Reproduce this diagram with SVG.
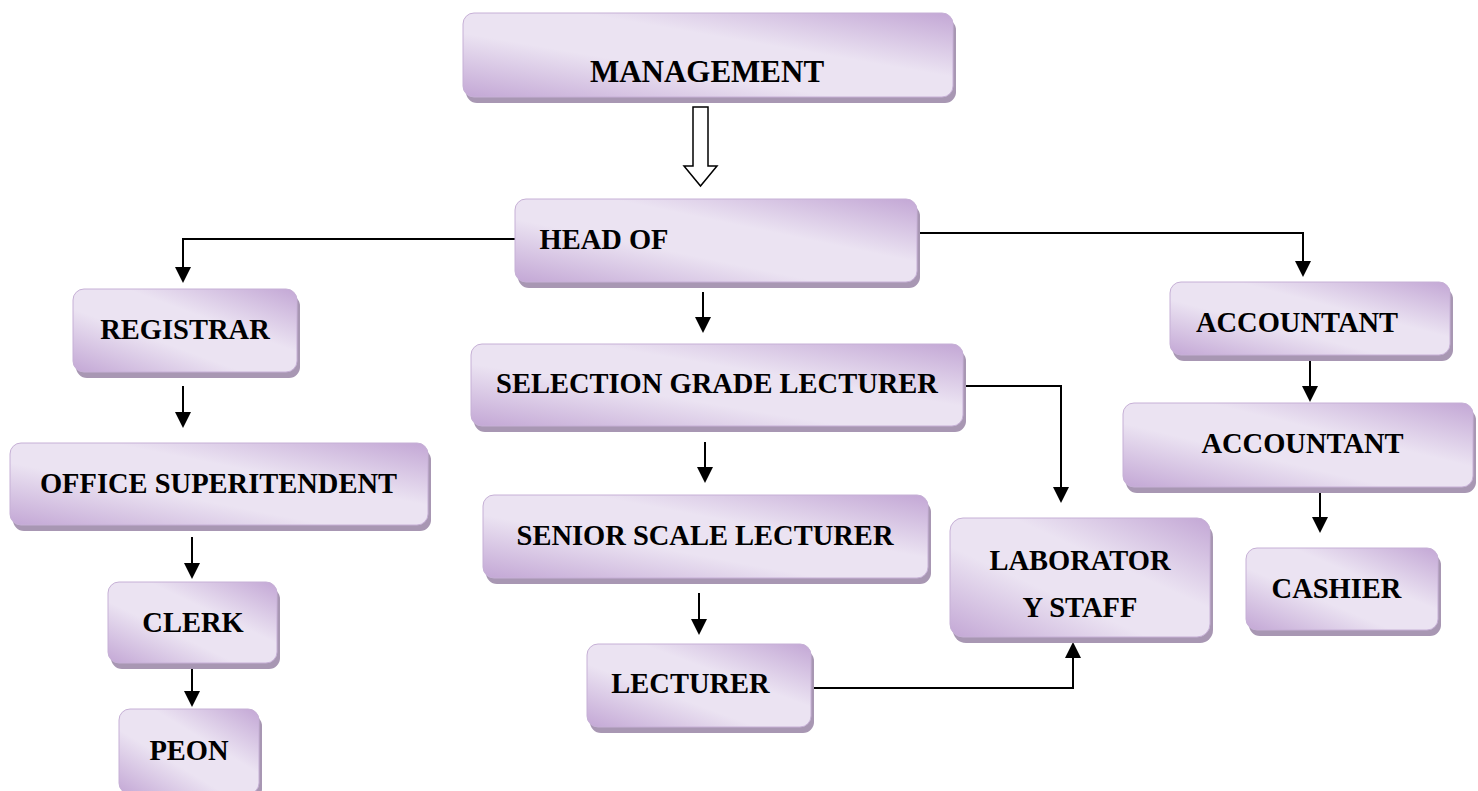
<svg xmlns="http://www.w3.org/2000/svg" width="1478" height="791" viewBox="0 0 1478 791">
<defs>
<linearGradient id="g" x1="0" y1="1" x2="1" y2="0">
<stop offset="0" stop-color="#c3a7d5"/>
<stop offset="0.38" stop-color="#ebe3f2"/>
<stop offset="0.62" stop-color="#ebe3f2"/>
<stop offset="1" stop-color="#c3a7d5"/>
</linearGradient>
<marker id="ah" markerUnits="userSpaceOnUse" markerWidth="16" markerHeight="16" refX="8" refY="8" orient="auto">
<path d="M0,0 L16,8 L0,16 z" fill="#000"/>
</marker>
<style>
.sh{fill:#a897b3}
.bx{fill:url(#g);stroke:#c6b0d6;stroke-width:1}
.t{font-family:"Liberation Serif","Times New Roman",serif;font-weight:bold;font-size:28.5px;fill:#000;text-anchor:middle}
.c{fill:none;stroke:#000;stroke-width:2;marker-end:url(#ah)}
</style>
</defs>
<rect width="1478" height="791" fill="#fff"/>

<g id="connectors">
<polygon points="693,107 708,107 708,166 717,166 700.5,186 684,166 693,166" fill="#fff" stroke="#000" stroke-width="1.5"/>
<path class="c" d="M515,239 H183 V275"/>
<path class="c" d="M917,233 H1303 V269"/>
<path class="c" d="M703,292 V325"/>
<path class="c" d="M183,386 V420"/>
<path class="c" d="M192,537 V571"/>
<path class="c" d="M192,665 V699"/>
<path class="c" d="M705,442 V475"/>
<path class="c" d="M699,593 V627"/>
<path class="c" d="M963,386 H1061 V495"/>
<path class="c" d="M807,688 H1073 V650"/>
<path class="c" d="M1310,361 V394"/>
<path class="c" d="M1320,492 V525"/>
</g>

<g id="management">
<rect class="sh" x="466" y="19" width="490" height="84" rx="11"/>
<rect class="bx" x="463" y="13" width="490" height="84" rx="11"/>
<text class="t" x="707" y="82" style="font-size:31px">MANAGEMENT</text>
</g>

<g id="head">
<rect class="sh" x="518" y="205" width="402" height="83" rx="11"/>
<rect class="bx" x="515" y="199" width="402" height="83" rx="11"/>
<text class="t" x="604" y="249">HEAD OF</text>
</g>

<g id="registrar">
<rect class="sh" x="76" y="295" width="224" height="83" rx="11"/>
<rect class="bx" x="73" y="289" width="224" height="83" rx="11"/>
<text class="t" x="185" y="339">REGISTRAR</text>
</g>

<g id="office">
<rect class="sh" x="13" y="449" width="418" height="82" rx="11"/>
<rect class="bx" x="10" y="443" width="418" height="82" rx="11"/>
<text class="t" x="218.5" y="493">OFFICE SUPERITENDENT</text>
</g>

<g id="clerk">
<rect class="sh" x="111" y="588" width="169" height="81" rx="11"/>
<rect class="bx" x="108" y="582" width="169" height="81" rx="11"/>
<text class="t" x="193" y="632">CLERK</text>
</g>

<g id="peon">
<rect class="sh" x="122" y="715" width="140" height="85" rx="11"/>
<rect class="bx" x="119" y="709" width="140" height="85" rx="11"/>
<text class="t" x="189" y="760">PEON</text>
</g>

<g id="sgl">
<rect class="sh" x="474" y="350" width="492" height="82" rx="11"/>
<rect class="bx" x="471" y="344" width="492" height="82" rx="11"/>
<text class="t" x="717" y="393">SELECTION GRADE LECTURER</text>
</g>

<g id="ssl">
<rect class="sh" x="486" y="501" width="445" height="83" rx="11"/>
<rect class="bx" x="483" y="495" width="445" height="83" rx="11"/>
<text class="t" x="705" y="545">SENIOR SCALE LECTURER</text>
</g>

<g id="lecturer">
<rect class="sh" x="590" y="650" width="224" height="83" rx="11"/>
<rect class="bx" x="587" y="644" width="224" height="83" rx="11"/>
<text class="t" x="690.5" y="693">LECTURER</text>
</g>

<g id="lab">
<rect class="sh" x="953" y="524" width="260" height="119" rx="13"/>
<rect class="bx" x="950" y="518" width="260" height="119" rx="13"/>
<text class="t" x="1080" y="570">LABORATOR</text>
<text class="t" x="1080" y="617">Y STAFF</text>
</g>

<g id="accountant1">
<rect class="sh" x="1173" y="288" width="280" height="73" rx="11"/>
<rect class="bx" x="1170" y="282" width="280" height="73" rx="11"/>
<text class="t" x="1297" y="332">ACCOUNTANT</text>
</g>

<g id="accountant2">
<rect class="sh" x="1126" y="409" width="350" height="84" rx="11"/>
<rect class="bx" x="1123" y="403" width="350" height="84" rx="11"/>
<text class="t" x="1302.5" y="453">ACCOUNTANT</text>
</g>

<g id="cashier">
<rect class="sh" x="1249" y="554" width="192" height="82" rx="11"/>
<rect class="bx" x="1246" y="548" width="192" height="82" rx="11"/>
<text class="t" x="1336.5" y="598">CASHIER</text>
</g>
</svg>
